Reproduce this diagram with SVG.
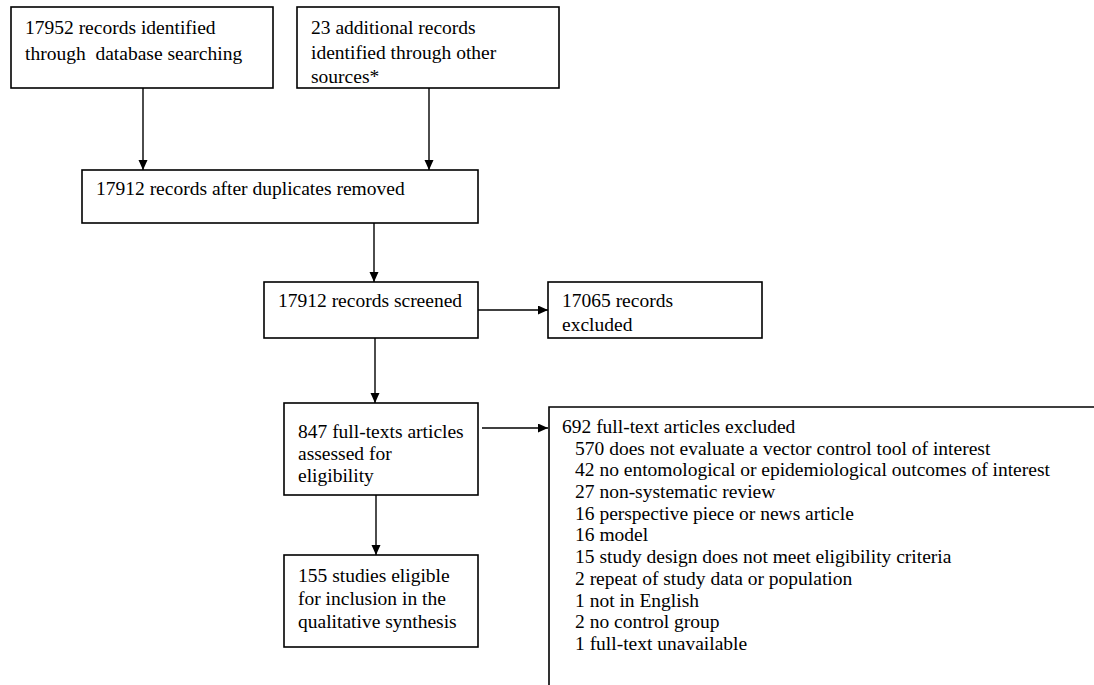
<svg xmlns="http://www.w3.org/2000/svg" width="1094" height="685" viewBox="0 0 1094 685">
<style>
.box{fill:#fff;stroke:#000;stroke-width:1.6}
.t{font-family:"Liberation Serif","Times New Roman",serif;font-size:19.5px;fill:#000}
.c{fill:none;stroke:#000;stroke-width:1.4}
</style>
<defs>
<marker id="ah" markerUnits="userSpaceOnUse" markerWidth="10" markerHeight="10" refX="10" refY="4.5" orient="auto">
<path d="M0,0 L10,4.5 L0,9 Z" fill="#000"/>
</marker>
</defs>
<rect width="1094" height="685" fill="#fff"/>
<g id="connectors">
<line class="c" x1="143" y1="88" x2="143" y2="170" marker-end="url(#ah)"/>
<line class="c" x1="429" y1="88" x2="429" y2="170" marker-end="url(#ah)"/>
<line class="c" x1="374" y1="223" x2="374" y2="282" marker-end="url(#ah)"/>
<line class="c" x1="478" y1="310" x2="548" y2="310" marker-end="url(#ah)"/>
<line class="c" x1="375" y1="338" x2="375" y2="403" marker-end="url(#ah)"/>
<line class="c" x1="482" y1="428" x2="548" y2="428" marker-end="url(#ah)"/>
<line class="c" x1="376" y1="495" x2="376" y2="555" marker-end="url(#ah)"/>
</g>
<g id="n1">
<rect class="box" x="11" y="7" width="262" height="81"/>
<text class="t" x="25" y="34">17952 records identified</text>
<text class="t" x="25" y="60" xml:space="preserve">through  database searching</text>
</g>
<g id="n2">
<rect class="box" x="297" y="7" width="262" height="81"/>
<text class="t" x="311" y="34">23 additional records</text>
<text class="t" x="311" y="59">identified through other</text>
<text class="t" x="311" y="83">sources*</text>
</g>
<g id="n3">
<rect class="box" x="82" y="170" width="396" height="53"/>
<text class="t" x="96" y="195">17912 records after duplicates removed</text>
</g>
<g id="n4">
<rect class="box" x="264" y="282" width="214" height="56"/>
<text class="t" x="278" y="307">17912 records screened</text>
</g>
<g id="n5">
<rect class="box" x="548" y="282" width="214" height="56"/>
<text class="t" x="562" y="307">17065 records</text>
<text class="t" x="562" y="331">excluded</text>
</g>
<g id="n6">
<rect class="box" x="284" y="403" width="194" height="92"/>
<text class="t" x="298" y="438">847 full-texts articles</text>
<text class="t" x="298" y="460">assessed for</text>
<text class="t" x="298" y="482">eligibility</text>
</g>
<g id="n7">
<rect class="box" x="284" y="555" width="194" height="92"/>
<text class="t" x="298" y="582">155 studies eligible</text>
<text class="t" x="298" y="605">for inclusion in the</text>
<text class="t" x="298" y="628">qualitative synthesis</text>
</g>
<g id="n8">
<path class="box" style="fill:none" d="M549,686 L549,407 L1095,407"/>
<text class="t" x="562" y="433">692 full-text articles excluded</text>
<text class="t" x="575" y="455">570 does not evaluate a vector control tool of interest</text>
<text class="t" x="575" y="476">42 no entomological or epidemiological outcomes of interest</text>
<text class="t" x="575" y="498">27 non-systematic review</text>
<text class="t" x="575" y="520">16 perspective piece or news article</text>
<text class="t" x="575" y="541">16 model</text>
<text class="t" x="575" y="563">15 study design does not meet eligibility criteria</text>
<text class="t" x="575" y="585">2 repeat of study data or population</text>
<text class="t" x="575" y="607">1 not in English</text>
<text class="t" x="575" y="628">2 no control group</text>
<text class="t" x="575" y="650">1 full-text unavailable</text>
</g>
</svg>
